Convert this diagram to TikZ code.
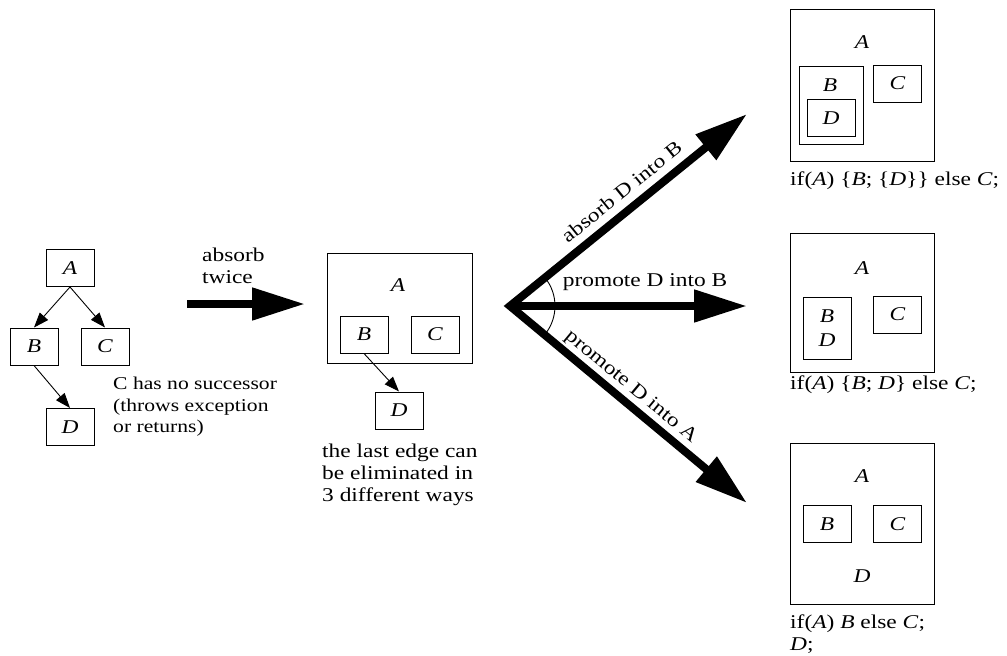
\documentclass[tikz,border=0pt]{standalone}
\usepackage{fontspec}
\setmainfont[FakeStretch=1.2]{Liberation Serif}
\usetikzlibrary{arrows.meta}

\begin{document}
\begin{tikzpicture}[
  x=1pt, y=1pt,
  font=\fontsize{19.5}{22}\selectfont,
  bighead/.tip={Triangle[length=53pt,width=31pt]},
  block/.style={
    draw=black,
    line width=1pt,
    minimum width=48pt,
    minimum height=37pt,
    inner sep=0pt,
    align=center
  },
  outer/.style={draw=black, line width=1pt, inner sep=0pt},
  % multi-line notes sit on the baseline of their last line
  note/.style={anchor=base west, align=left, inner sep=0pt},
  edge/.style={-{Triangle[length=15pt,width=11pt]}, line width=0.9pt},
  bigarrow/.style={line width=8pt, -bighead},
  along/.style={sloped, inner sep=0pt}
]
\useasboundingbox (0,0) rectangle (1007,-656);

% Original graph
\node[block] (lA) at (70,-268) {\textit{A}};
\node[block] (lB) at (34,-346.5) {\textit{B}};
\node[block] (lC) at (105,-346.5) {\textit{C}};
\node[block] (lD) at (70,-427) {\textit{D}};
\draw[edge] (lA.south) -- (lB.north);
\draw[edge] (lA.south) -- (lC.north);
\draw[edge] (lB.south) -- (lD.north);
\node[note, font=\fontsize{18}{21.5}\selectfont] (noSucc) at (113,-432.5)
  {C has no successor\\(throws exception\\or returns)};

% First step
\node[note] (twice) at (202,-283) {absorb\\twice};
\coordinate (twiceFrom) at (187,-304);
\coordinate (twiceTo) at (305,-304);
\draw[bigarrow] (twiceFrom) -- (twiceTo);

% Graph after absorbing twice
\node[outer, minimum width=145pt, minimum height=110pt] (mBox) at (399.5,-308.5) {};
\node (mA) at (398,-285) {\textit{A}};
\node[block] (mB) at (364,-334.5) {\textit{B}};
\node[block] (mC) at (435,-334.5) {\textit{C}};
\node[block] (mD) at (399,-410.5) {\textit{D}};
\draw[edge] (mB.south) -- (mD.north);
\node[note] (lastEdge) at (322,-501) {the last edge can\\be eliminated in\\3 different ways};

% Three ways out
\coordinate (fork) at (510,-306);
\coordinate (upTip) at (747,-114);
\coordinate (midTip) at (747,-306);
\coordinate (lowTip) at (747,-503);
\draw[line width=0.9pt] (fork) ++(-39:45) arc[start angle=-39, end angle=39, radius=45];
\draw[bigarrow, bighead-bighead, line join=miter] (upTip) -- (fork) -- (lowTip);
\draw[bigarrow] (fork) -- (midTip);
\path (fork) -- node[along, above=11.5pt, pos=0.52] {absorb D into B} (upTip);
\path (fork) -- node[along, above=15.5pt, pos=0.57] {promote D into B} (midTip);
\path (fork) -- node[along, above=6pt, pos=0.47] {promote D into A} (lowTip);

% absorb D into B
\node[outer, minimum width=144pt, minimum height=152pt] (rBox1) at (862,-85) {};
\node (rA1) at (862,-42) {\textit{A}};
\node[outer, minimum width=64pt, minimum height=78pt] (rBBox1) at (831,-105) {};
\node (rB1) at (830,-85) {\textit{B}};
\node[block] (rD1) at (831,-118) {\textit{D}};
\node[block] (rC1) at (897.5,-83.5) {\textit{C}};
\node[note] (code1) at (790,-185) {if(\textit{A}) \{\textit{B}; \{\textit{D}\}\} else \textit{C};};

% promote D into B
\node[outer, minimum width=144pt, minimum height=139pt] (rBox2) at (862,-302.5) {};
\node (rA2) at (862,-268) {\textit{A}};
\node[block, minimum height=62pt, font=\fontsize{19.5}{24}\selectfont] (rBD2) at (827,-328) {\textit{B}\\\textit{D}};
\node[block] (rC2) at (897.5,-314.5) {\textit{C}};
\node[note] (code2) at (790,-389) {if(\textit{A}) \{\textit{B}; \textit{D}\} else \textit{C};};

% promote D into A
\node[outer, minimum width=144pt, minimum height=161pt] (rBox3) at (862,-523.5) {};
\node (rA3) at (862,-476) {\textit{A}};
\node[block] (rB3) at (827,-524) {\textit{B}};
\node[block] (rC3) at (897.5,-524) {\textit{C}};
\node (rD3) at (862,-576) {\textit{D}};
\node[note] (code3) at (790,-650) {if(\textit{A}) \textit{B} else \textit{C};\\\textit{D};};

\end{tikzpicture}
\end{document}
